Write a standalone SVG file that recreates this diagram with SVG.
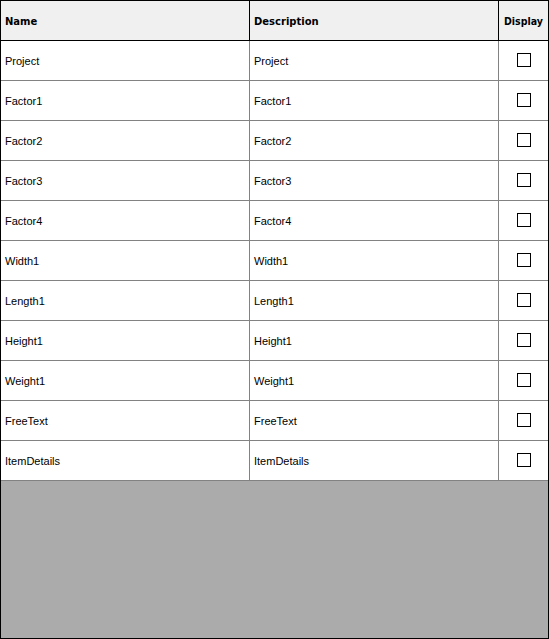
<svg xmlns="http://www.w3.org/2000/svg" width="549" height="639" viewBox="0 0 549 639">
<style>
.hd{font-family:"DejaVu Sans",sans-serif;font-weight:bold;font-size:10px;fill:#000}
.tx{font-family:"Liberation Sans",Arial,sans-serif;font-size:11px;fill:#000}
.gl{stroke:#828282;stroke-width:1;fill:none}
.bl{stroke:#000;stroke-width:1;fill:none}
.cb{fill:#fff;stroke:#000;stroke-width:1}
</style>
<rect x="0" y="0" width="549" height="639" fill="#fff"/>
<g id="header">
<rect x="1" y="1" width="547" height="39.5" fill="#f0f0f0"/>
<text class="hd" x="5" y="25">Name</text>
<text class="hd" x="254" y="25">Description</text>
<text class="hd" x="504" y="25" textLength="39" lengthAdjust="spacingAndGlyphs">Display</text>
<line class="bl" x1="249.5" y1="0" x2="249.5" y2="40"/>
<line class="bl" x1="498.5" y1="0" x2="498.5" y2="40"/>
<line class="bl" x1="0" y1="40.5" x2="549" y2="40.5"/>
</g>
<g id="rows">
<g id="row-project"><text class="tx" x="5" y="65">Project</text><text class="tx" x="254" y="65">Project</text><rect class="cb" x="517.5" y="53.5" width="13" height="13"/></g>
<g id="row-factor1"><text class="tx" x="5" y="105">Factor1</text><text class="tx" x="254" y="105">Factor1</text><rect class="cb" x="517.5" y="93.5" width="13" height="13"/></g>
<g id="row-factor2"><text class="tx" x="5" y="145">Factor2</text><text class="tx" x="254" y="145">Factor2</text><rect class="cb" x="517.5" y="133.5" width="13" height="13"/></g>
<g id="row-factor3"><text class="tx" x="5" y="185">Factor3</text><text class="tx" x="254" y="185">Factor3</text><rect class="cb" x="517.5" y="173.5" width="13" height="13"/></g>
<g id="row-factor4"><text class="tx" x="5" y="225">Factor4</text><text class="tx" x="254" y="225">Factor4</text><rect class="cb" x="517.5" y="213.5" width="13" height="13"/></g>
<g id="row-width1"><text class="tx" x="5" y="265">Width1</text><text class="tx" x="254" y="265">Width1</text><rect class="cb" x="517.5" y="253.5" width="13" height="13"/></g>
<g id="row-length1"><text class="tx" x="5" y="305">Length1</text><text class="tx" x="254" y="305">Length1</text><rect class="cb" x="517.5" y="293.5" width="13" height="13"/></g>
<g id="row-height1"><text class="tx" x="5" y="345">Height1</text><text class="tx" x="254" y="345">Height1</text><rect class="cb" x="517.5" y="333.5" width="13" height="13"/></g>
<g id="row-weight1"><text class="tx" x="5" y="385">Weight1</text><text class="tx" x="254" y="385">Weight1</text><rect class="cb" x="517.5" y="373.5" width="13" height="13"/></g>
<g id="row-freetext"><text class="tx" x="5" y="425">FreeText</text><text class="tx" x="254" y="425">FreeText</text><rect class="cb" x="517.5" y="413.5" width="13" height="13"/></g>
<g id="row-itemdetails"><text class="tx" x="5" y="465">ItemDetails</text><text class="tx" x="254" y="465">ItemDetails</text><rect class="cb" x="517.5" y="453.5" width="13" height="13"/></g>
</g>
<g id="grid">
<line class="gl" x1="249.5" y1="41" x2="249.5" y2="480"/>
<line class="gl" x1="498.5" y1="41" x2="498.5" y2="480"/>
<path class="gl" d="M0 80.5H549M0 120.5H549M0 160.5H549M0 200.5H549M0 240.5H549M0 280.5H549M0 320.5H549M0 360.5H549M0 400.5H549M0 440.5H549"/>
</g>
<rect id="empty-area" x="1" y="481" width="547" height="157" fill="#ababab"/>
<line class="gl" x1="0" y1="480.5" x2="549" y2="480.5"/>
<rect class="bl" x="0.5" y="0.5" width="548" height="638"/>
</svg>
